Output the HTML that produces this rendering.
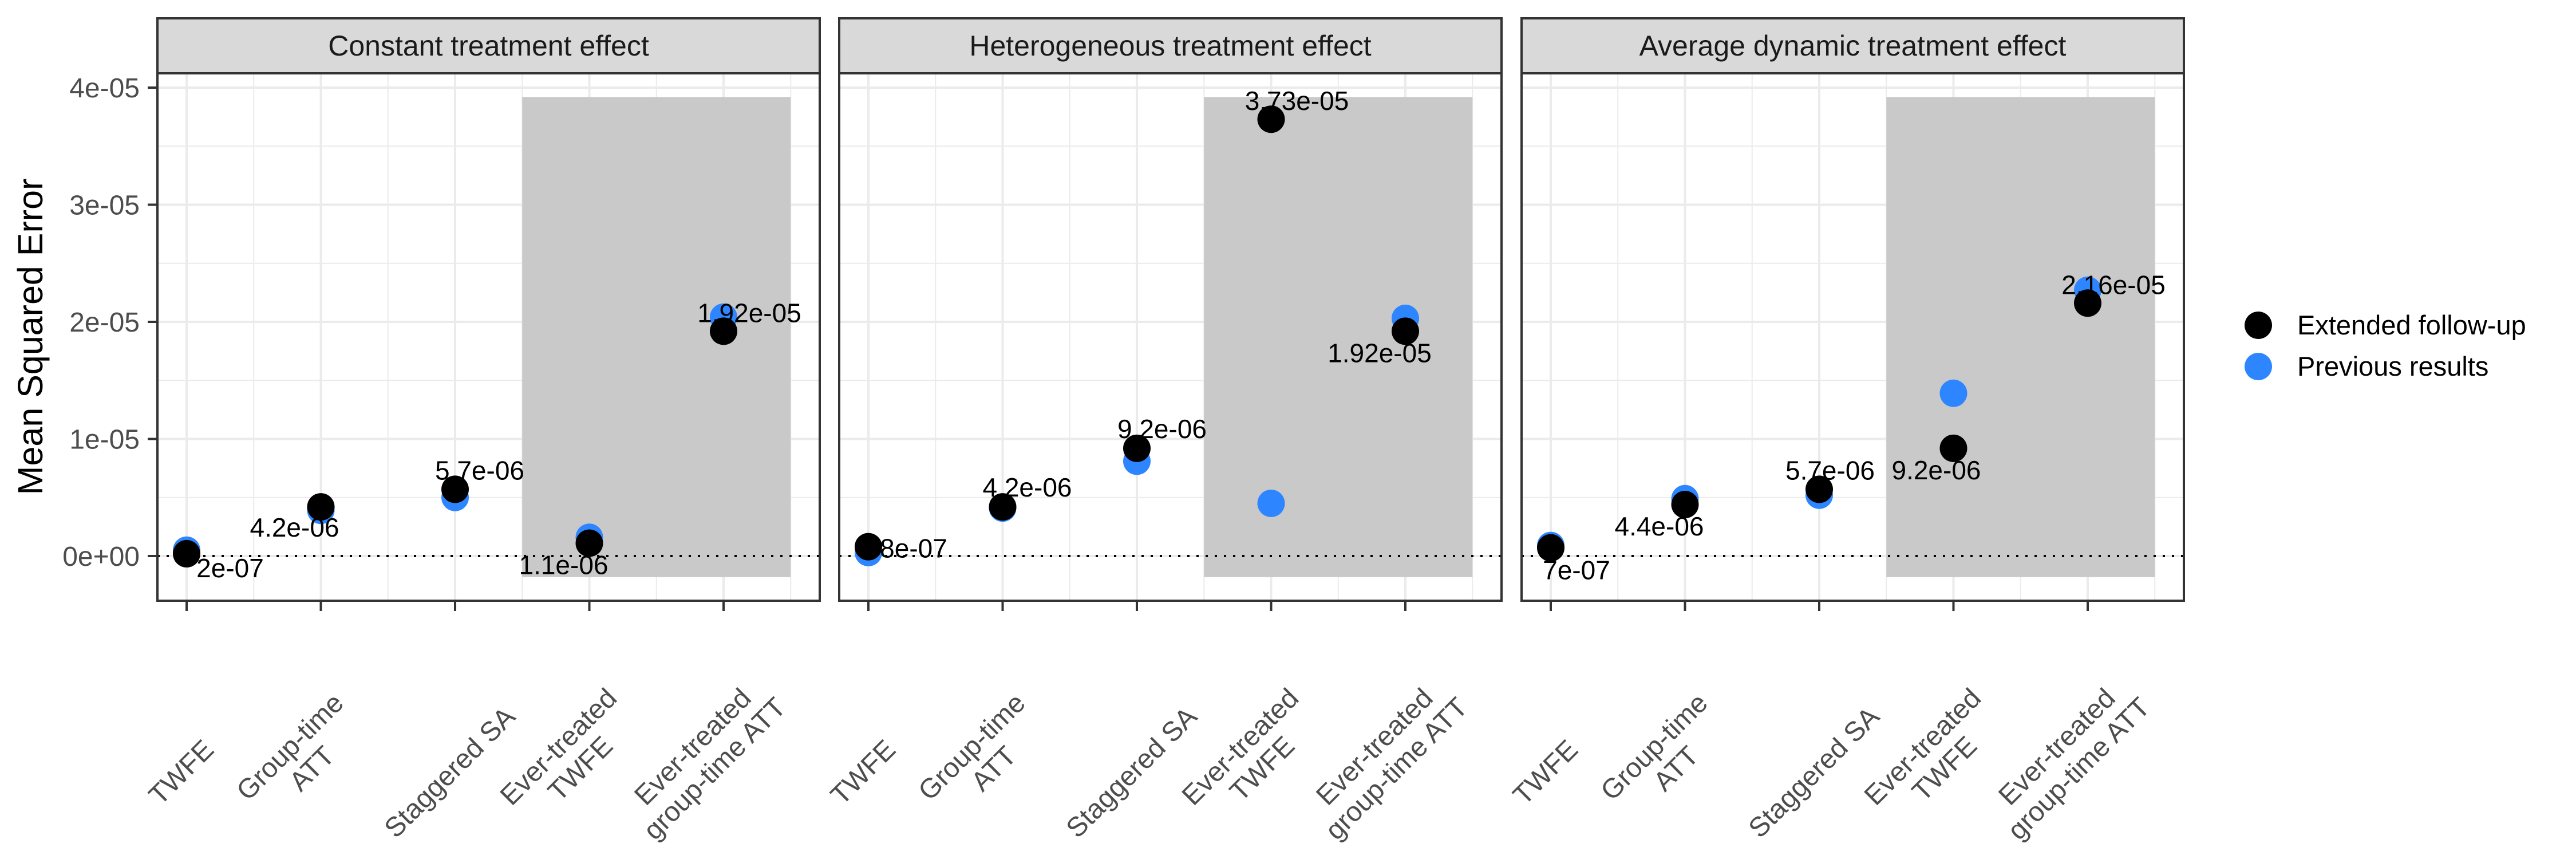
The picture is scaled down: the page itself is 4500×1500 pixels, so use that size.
<!DOCTYPE html>
<html><head><meta charset="utf-8">
<style>
html,body{margin:0;padding:0;background:#fff;}
svg{display:block;font-family:"Liberation Sans",sans-serif;}
</style></head>
<body>
<svg id="chart" width="4500" height="1500" viewBox="0 0 4500 1500" xmlns="http://www.w3.org/2000/svg">
<text x="0" y="0" transform="translate(74,588) rotate(-90)" text-anchor="middle" font-size="61" fill="#000">Mean Squared Error</text>
<g>
<circle cx="3945" cy="568" r="24" fill="#000"/>
<text x="4013" y="584" font-size="47" fill="#000">Extended follow-up</text>
<circle cx="3945" cy="640" r="24" fill="#2D86FF"/>
<text x="4013" y="656" font-size="47" fill="#000">Previous results</text>
</g>
</svg>
<script>
const panels = ["Constant treatment effect","Heterogeneous treatment effect","Average dynamic treatment effect"];
const categories = [["TWFE"],["Group-time","ATT"],["Staggered SA"],["Ever-treated","TWFE"],["Ever-treated","group-time ATT"]];
// values in units of 1e-6
const extended = [[0.2,4.2,5.7,1.1,19.2],[0.8,4.2,9.2,37.3,19.2],[0.7,4.4,5.7,9.2,21.6]];
const previous = [[0.5,3.9,5.0,1.6,20.4],[0.3,4.1,8.1,4.5,20.3],[0.9,4.9,5.2,13.9,22.7]];
const labels = [["2e-07","4.2e-06","5.7e-06","1.1e-06","1.92e-05"],["8e-07","4.2e-06","9.2e-06","3.73e-05","1.92e-05"],["7e-07","4.4e-06","5.7e-06","9.2e-06","2.16e-05"]];
const yTicks = [0,10,20,30,40];
const yTickLabels = ["0e+00","1e-05","2e-05","3e-05","4e-05"];
const yMinor = [5,15,25,35];
const shadeRange = [3.5,5.5];
const shadeY = [-1.8,39.2];
// label layout offsets (px)
const labelDx = [[76,-46,43,-45,45],[79,43,44,45,-45],[45,-45,19,-30,45]];
const labelDy = [[25,36,-33,38,-32],[3,-34,-34,-32,38],[39,38,-33,38,-32]];

const NS="http://www.w3.org/2000/svg";
const svgEl=document.getElementById('chart');
const panelLeft=[275,1466,2658], panelW=1157, pTop=128, pBottom=1049, stripTop=32;
function xs(p,c){return panelLeft[p]+51+(c-1)*234.5;}
function ys(v){return 971-v*20.45;}
function mk(tag,attrs,parent){const e=document.createElementNS(NS,tag);for(const k in attrs)e.setAttribute(k,attrs[k]);(parent||svgEl).appendChild(e);return e;}

panels.forEach((title,p)=>{
  const g=mk('g',{});
  
  
  const L=panelLeft[p], R=L+panelW;
  yMinor.forEach(v=>{const l=mk('line',{x1:L,x2:R,y1:ys(v),y2:ys(v),stroke:'#EBEBEB','stroke-width':2},g);
    
    });
  for(let c=1.5;c<=5.5;c+=1){const l=mk('line',{x1:xs(p,c),x2:xs(p,c),y1:pTop,y2:pBottom,stroke:'#EBEBEB','stroke-width':2},g);
    
    }
  yTicks.forEach(v=>{const l=mk('line',{x1:L,x2:R,y1:ys(v),y2:ys(v),stroke:'#EBEBEB','stroke-width':4},g);
    
    });
  categories.forEach((c,i)=>{const l=mk('line',{x1:xs(p,i+1),x2:xs(p,i+1),y1:pTop,y2:pBottom,stroke:'#EBEBEB','stroke-width':4},g);
    
    });
  const sx=xs(p,shadeRange[0]), sw=xs(p,shadeRange[1])-sx;
  const r=mk('rect',{x:sx,y:ys(shadeY[1]),width:sw,height:ys(shadeY[0])-ys(shadeY[1]),fill:'#C9C9C9'},g);
  
  
  const z=mk('line',{x1:L,x2:R,y1:ys(0),y2:ys(0),stroke:'#000','stroke-width':4,'stroke-dasharray':'4 12'},g);
  
  
  previous[p].forEach((v,i)=>{const c=mk('circle',{cx:xs(p,i+1),cy:ys(v),r:24,fill:'#2D86FF'},g);
    
    });
  extended[p].forEach((v,i)=>{const c=mk('circle',{cx:xs(p,i+1),cy:ys(v),r:24,fill:'#000'},g);
    
    });
  labels[p].forEach((t,i)=>{const e=mk('text',{x:xs(p,i+1)+labelDx[p][i],y:ys(extended[p][i])+labelDy[p][i]+16,'text-anchor':'middle','font-size':46,fill:'#000'},g);
    e.textContent=t;
    
    });
  const b=mk('rect',{x:L,y:pTop,width:panelW,height:pBottom-pTop,fill:'none',stroke:'#333','stroke-width':4},g);
  
  
  const s=mk('rect',{x:L,y:stripTop,width:panelW,height:pTop-stripTop,fill:'#D9D9D9',stroke:'#333','stroke-width':4},g);
  
  
  const st=mk('text',{x:L+panelW/2,y:97,'text-anchor':'middle','font-size':50,fill:'#1A1A1A'},g);
  st.textContent=title;
  
  
  categories.forEach((lines,i)=>{
    const x=xs(p,i+1);
    const t=mk('line',{x1:x,x2:x,y1:pBottom,y2:1067,stroke:'#333','stroke-width':4},g);
    
    
    const n=lines.length, lh=54, shift=(n-1)*36;
    const tg=mk('g',{transform:'translate('+(x-10)+',1348) rotate(-45)'},g);
    const tx=mk('text',{'text-anchor':'middle','font-size':48,fill:'#4D4D4D'},tg);
    
    
    lines.forEach((ln,j)=>{const ts=mk('tspan',{x:0,y:(j-(n-1)/2)*lh-shift+17},tx);ts.textContent=ln;});
  });
  if(p===0){
    yTicks.forEach((v,i)=>{
      const t=mk('line',{x1:258,x2:275,y1:ys(v),y2:ys(v),stroke:'#333','stroke-width':4},g);
      
      
      const tl=mk('text',{x:244,y:ys(v)+17,'text-anchor':'end','font-size':48,fill:'#4D4D4D'},g);
      tl.textContent=yTickLabels[i];
      
      
    });
  }
});
</script>
</body></html>
